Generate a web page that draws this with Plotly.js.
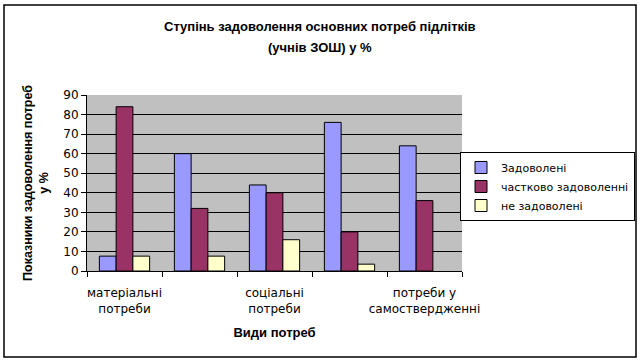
<!DOCTYPE html>
<html>
<head>
<meta charset="utf-8">
<script src="https://cdn.plot.ly/plotly-3.0.1.min.js"></script>
<style>html,body{margin:0;padding:0;background:#fff;}#chart{width:640px;height:364px;}</style>
</head>
<body>
<div id="chart"></div>
<script>
// Data
const categoryIndex = [0, 1, 2, 3, 4];
const categoryLabels = ['матеріальні<br>потреби', '', 'соціальні<br>потреби', '', 'потреби у<br>самоствердженні'];
const seriesNames = ['Задоволені', 'частково задоволенні', 'не задоволені'];
const satisfied = [7.6, 60, 44, 76, 64];
const partly = [84, 32, 40, 20, 36];
const notSatisfied = [7.6, 7.6, 16, 3.5, null];
const yTicks = [0, 10, 20, 30, 40, 50, 60, 70, 80, 90];
const titleLines = ['Ступінь задоволення основних потреб підлітків', '(учнів ЗОШ) у %'];

const colors = ['#9999FF', '#993366', '#FFFFCC'];
const fontA = 'Liberation Sans, Arial, sans-serif';
const fontV = 'DejaVu Sans, Verdana, sans-serif';

const traces = [satisfied, partly, notSatisfied].map((vals, i) => ({
  type: 'bar',
  x: categoryIndex,
  y: vals,
  name: seriesNames[i],
  marker: {color: colors[i], line: {color: '#000', width: 1}}
}));

const boundaries = categoryIndex.map(v => v - 0.5).concat([categoryIndex.length - 0.5]);

const layout = {
  width: 640, height: 364,
  margin: {l: 87, r: 178, t: 95, b: 93, autoexpand: false},
  paper_bgcolor: '#fff',
  plot_bgcolor: '#C0C0C0',
  font: {family: fontV, size: 12, color: '#000'},
  barmode: 'group',
  bargap: 0.33,
  bargroupgap: 0,
  annotations: titleLines.map((t, i) => ({
    text: '<b>' + t + '</b>',
    xref: 'paper', yref: 'paper',
    x: (320 - 87) / 375, y: (271 - [27, 48][i]) / 176,
    xanchor: 'center', yanchor: 'middle',
    showarrow: false,
    font: {family: fontA, size: 13, color: '#000'}
  })),
  xaxis: {
    range: [-0.5, 4.5],
    tickvals: categoryIndex,
    ticktext: categoryLabels,
    ticks: '',
    ticklabelstandoff: 11,
    showgrid: false,
    zeroline: false,
    showline: true, linecolor: '#000', linewidth: 1,
    tickfont: {family: fontV, size: 12},
    title: {text: '<b>Види потреб</b>', font: {family: fontA, size: 13}, standoff: 12}
  },
  xaxis2: {
    overlaying: 'x', matches: 'x', side: 'bottom',
    range: [-0.5, 4.5],
    tickvals: boundaries,
    ticktext: boundaries.map(() => ''),
    ticks: 'outside', ticklen: 5, tickcolor: '#000',
    showgrid: false, zeroline: false, showline: false
  },
  yaxis: {
    range: [0, 90],
    tickvals: yTicks,
    ticks: 'outside', ticklen: 5, tickcolor: '#000',
    showgrid: true, gridcolor: '#000', gridwidth: 1,
    zeroline: false,
    showline: true, linecolor: '#000', linewidth: 1,
    tickfont: {family: fontV, size: 12},
    title: {text: '<b>Показники задоволення потреб<br>у %</b>', font: {family: fontA, size: 12.5}, standoff: 11}
  },
  legend: {
    x: (460 - 87) / 375, xanchor: 'left',
    y: (271 - 152) / 176, yanchor: 'top',
    bgcolor: '#fff',
    bordercolor: '#000', borderwidth: 1,
    font: {family: fontV, size: 11},
    itemwidth: 30,
    tracegroupgap: 0
  },
  shapes: [{
    type: 'rect', xref: 'paper', yref: 'paper',
    x0: (4 - 87) / 375, x1: (636 - 87) / 375,
    y0: (271 - 357) / 176, y1: (271 - 5) / 176,
    line: {color: '#000', width: 1.5}, fillcolor: 'rgba(0,0,0,0)', layer: 'below'
  }]
};

// invisible helper trace on xaxis2 so the boundary ticks render
traces.push({type: 'scatter', x: [0], y: [0], xaxis: 'x2', mode: 'markers', marker: {opacity: 0}, showlegend: false, hoverinfo: 'skip'});

Plotly.newPlot('chart', traces, layout, {displayModeBar: false, staticPlot: true});
</script>
</body>
</html>
